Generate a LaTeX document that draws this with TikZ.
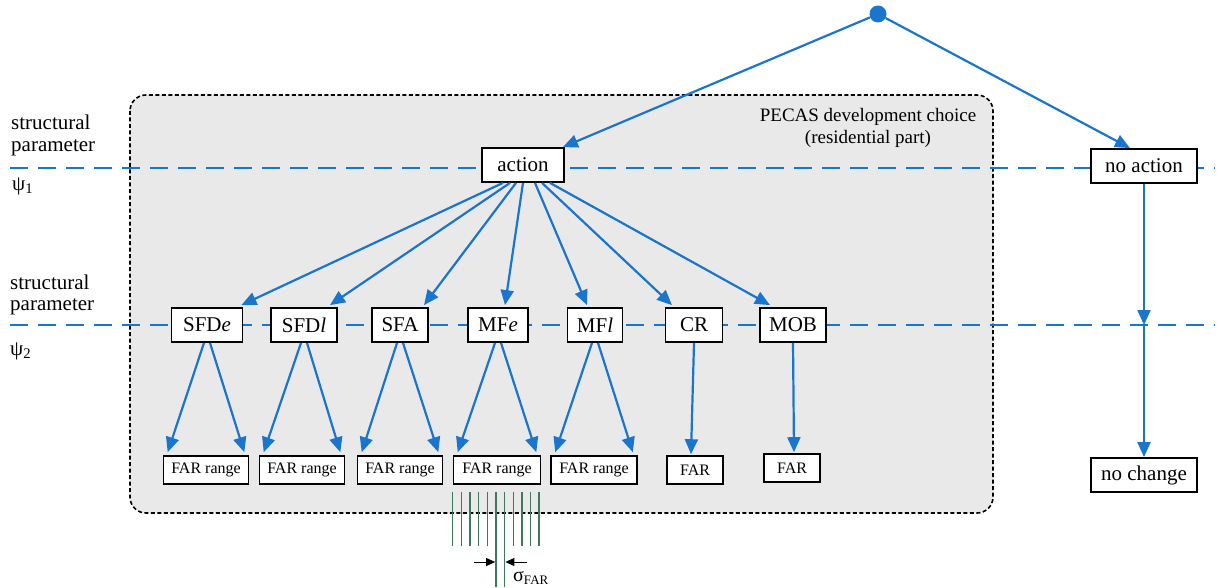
\documentclass[tikz,border=0pt]{standalone}
\usepackage{fontspec}
\setmainfont{Liberation Serif}
\usetikzlibrary{arrows.meta,calc}
\definecolor{ablue}{HTML}{1A75CC}
\definecolor{agreen}{HTML}{3C7A5E}
\definecolor{boxgray}{HTML}{E9E9E9}
\tikzset{
  box/.style={draw=black,line width=1.8pt,fill=white,inner xsep=6pt,inner ysep=0pt,minimum height=34pt,font=\fontsize{21}{24}\selectfont},
  farbox/.style={draw=black,line width=1.6pt,fill=white,inner xsep=5pt,inner ysep=0pt,minimum height=28pt,font=\fontsize{16}{19}\selectfont},
  conn/.style={draw=ablue,line width=2.2pt,-{Triangle[length=15pt,width=13pt]}},
  level/.style={draw=ablue,line width=2.2pt,dash pattern=on 18pt off 10pt},
  lbl/.style={font=\fontsize{21}{24}\selectfont,anchor=west,inner sep=0pt},
  tick/.style={draw=agreen,line width=1.5pt},
}
\begin{document}
\begin{tikzpicture}[x=1pt,y=-1pt]
\useasboundingbox (0,0) rectangle (1222,588);
% background region
\draw[fill=boxgray,draw=black,line width=1.6pt,dash pattern=on 4pt off 2.5pt,rounded corners=16pt] (130,95) rectangle (993,513);
\node[font=\fontsize{19}{22}\selectfont,align=center,inner sep=0pt] (title) at (868,128) {PECAS development choice\\(residential part)};
% structural level lines
\coordinate (l1a) at (10,168); \coordinate (l1b) at (1215,168);
\coordinate (l2a) at (10,325); \coordinate (l2b) at (1215,325);
\draw[level] (l1a) -- (l1b);
\draw[level] (l2a) -- (l2b);
% left labels
\node[lbl] (s1) at (11,122) {structural};
\node[lbl] (p1) at (11,148) {parameter};
\node[lbl] (psi1) at (12,186) {ψ\textsubscript{1}};
\node[lbl] (s2) at (10,282) {structural};
\node[lbl] (p2) at (10,307) {parameter};
\node[lbl] (psi2) at (10,351) {ψ\textsubscript{2}};
% top nodes
\node[circle,fill=ablue,inner sep=0pt,minimum size=17pt] (root) at (878,14) {};
\node[box,minimum width=82pt] (action) at (523,165) {action};
\node[box,minimum width=106pt] (noaction) at (1144,166) {no action};
\node[box,minimum width=106pt] (nochange) at (1144,475) {no change};
\coordinate (mid) at (1144,325);
% level 2 nodes
\node[box,minimum width=71pt] (sfde) at (207,325) {SFD\textit{e}};
\node[box,minimum width=66pt] (sfdl) at (304,325) {SFD\textit{l}};
\node[box,minimum width=56pt] (sfa) at (400,325) {SFA};
\node[box,minimum width=60pt] (mfe) at (498,325) {MF\textit{e}};
\node[box,minimum width=55pt] (mfl) at (595,325) {MF\textit{l}};
\node[box,minimum width=57pt] (cr) at (694,325) {CR};
\node[box,minimum width=66pt] (mob) at (793,325) {MOB};
% level 3 nodes
\node[farbox,minimum width=85pt] (f1) at (206,470) {FAR range};
\node[farbox,minimum width=85pt] (f2) at (302,470) {FAR range};
\node[farbox,minimum width=85pt] (f3) at (400,470) {FAR range};
\node[farbox,minimum width=87pt] (f4) at (497,470) {FAR range};
\node[farbox,minimum width=86pt] (f5) at (594,470) {FAR range};
\node[farbox,minimum width=56pt] (f6) at (695,470) {FAR};
\node[farbox,minimum width=56pt] (f7) at (792,468) {FAR};
% root connectors
\draw[conn] (root) -- ($(action.north east)+(-2,0)$);
\draw[conn] (root) -- ($(noaction.north)+(-14,0)$);
\draw[conn] (noaction) -- (mid);
\draw[conn] (mid) -- (nochange);
% action to level 2
\draw[conn] ($(action.south)+(-20,0)$) -- ($(sfde.north east)+(-2,-2)$);
\draw[conn] ($(action.south)+(-13,0)$) -- ($(sfdl.north)+(26,-2)$);
\draw[conn] ($(action.south)+(-7,0)$) -- ($(sfa.north)+(24,-2)$);
\draw[conn] ($(action.south)+(0,0)$) -- ($(mfe.north)+(7,-2)$);
\draw[conn] ($(action.south)+(12,0)$) -- ($(mfl.north)+(-8,-2)$);
\draw[conn] ($(action.south)+(19,0)$) -- ($(cr.north)+(-22,-2)$);
\draw[conn] ($(action.south)+(27,0)$) -- ($(mob.north)+(-23,-2)$);
% level 2 to level 3
\foreach \a/\b in {sfde/f1,sfdl/f2,sfa/f3,mfe/f4,mfl/f5}{
  \draw[conn] ($(\a.south)+(-3,0)$) -- ($(\b.north west)+(5,-3)$);
  \draw[conn] ($(\a.south)+(3,0)$) -- ($(\b.north east)+(-5,-3)$);
}
\draw[conn] (cr.south) -- ($(f6.north)+(-4,-1)$);
\draw[conn] (mob.south) -- ($(f7.north)+(2,-1)$);
% sigma ticks
\foreach \i in {0,...,10}{
  \pgfmathsetmacro{\xx}{452.7+8.65*\i}
  \coordinate (t\i) at (\xx,492);
  \coordinate (b\i) at (\xx,546);
}
\foreach \i in {0,1,2,3,4,7,8,9,10}{ \draw[tick] (t\i) -- (b\i); }
\coordinate (b5x) at ($(t5)+(0,95)$);
\coordinate (b6x) at ($(t6)+(0,95)$);
\draw[tick] (t5) -- (b5x);
\draw[tick] (t6) -- (b6x);
\coordinate (al) at ($(t5)+(-22,70)$);
\coordinate (ar) at ($(t6)+(22,70)$);
\draw[black,line width=0.9pt,-{Triangle[length=9pt,width=8pt]}] (al) -- ($(t5)+(-0.8,70)$);
\draw[black,line width=0.9pt,-{Triangle[length=9pt,width=8pt]}] (ar) -- ($(t6)+(0.8,70)$);
\node[anchor=west,inner sep=0pt,font=\fontsize{20}{22}\selectfont] (sig) at (513,578) {σ\textsubscript{\fontsize{13}{14}\selectfont FAR}};
\end{tikzpicture}
\end{document}
